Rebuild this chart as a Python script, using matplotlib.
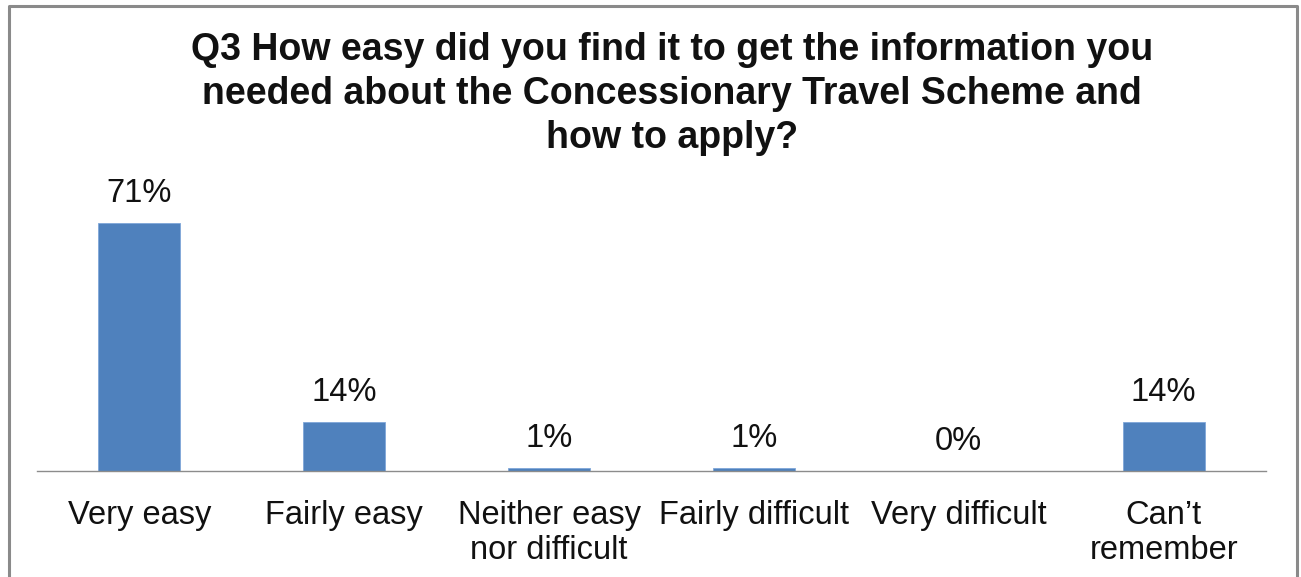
#!/usr/bin/env python3

# Q3 survey responses: ease of getting information about the scheme

import matplotlib
matplotlib.use("Agg")
from matplotlib import pyplot as plt
from matplotlib.lines import Line2D

plt.rcParams['font.family'] = ['Liberation Sans', 'DejaVu Sans']

categories = ["Very easy", "Fairly easy", "Neither easy\nnor difficult",
              "Fairly difficult", "Very difficult", "Can\u2019t\nremember"]
shares = [71, 14, 1, 1, 0, 14]
value_labels = ["71%", "14%", "1%", "1%", "0%", "14%"]

W, H = 1301, 577
fig = plt.figure(figsize=(W / 100, H / 100), dpi=100)

# plot area in pixel terms
left, right, base, top = 37, 1266, 471, 192
ax = fig.add_axes([left / W, (H - base) / H, (right - left) / W, (base - top) / H])

x = range(len(categories))
ax.bar(x, shares, width=0.4, color="#4F81BD", edgecolor="#7FA7D9", linewidth=0.6)
ax.set_xlim(-0.5, len(categories) - 0.5)
ax.set_ylim(0, 80)

for xi, v, lab in zip(x, shares, value_labels):
    ax.annotate(lab, (xi, v), xytext=(0, 10), textcoords="offset points",
                ha="center", va="bottom", fontsize=23.5, color="#111111")

for s in ["top", "right", "left"]:
    ax.spines[s].set_visible(False)
ax.spines["bottom"].set_color("#8c8c8c")
ax.spines["bottom"].set_linewidth(1.0)
ax.set_yticks([])
ax.set_xticks(list(x))
ax.set_xticklabels(categories, fontsize=23.5, color="#111111", linespacing=1.16)
ax.tick_params(axis="x", length=0, pad=21)

fig.text(672 / W, 1 - 94 / H,
         "Q3 How easy did you find it to get the information you\n"
         "needed about the Concessionary Travel Scheme and\n"
         "how to apply?",
         ha="center", va="center", fontsize=27, fontweight="bold",
         linespacing=1.27, color="#111111")

# outer frame, open at the bottom
bx0, bx1, by0 = 8.5 / W, 1296.5 / W, 1 - 5.5 / H
fig.add_artist(Line2D([bx0, bx0, bx1, bx1], [0, by0, by0, 0],
                      color="#8a8a8a", lw=2.2, transform=fig.transFigure))

plt.savefig("out.png", dpi=100, facecolor="white")
